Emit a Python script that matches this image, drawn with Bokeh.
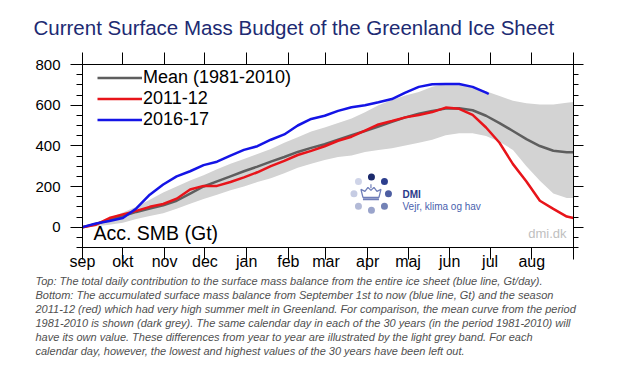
from bokeh.plotting import figure
from bokeh.models import (Range1d, FixedTicker, LinearAxis, Label, Legend, LegendItem,
                          CustomJSTickFormatter, Title)
from bokeh.embed import file_html
from bokeh.resources import INLINE

# ---------------- data ----------------
month_names = ["sep", "okt", "nov", "dec", "jan", "feb", "mar", "apr", "maj", "jun", "jul", "aug"]
month_days = [30, 31, 30, 31, 31, 28, 31, 30, 31, 30, 31, 31]

days = [0, 10, 20, 30, 40, 50, 60, 70, 80, 90, 100, 110, 120, 130, 140, 150, 160, 170, 180,
        190, 200, 210, 220, 230, 240, 250, 260, 270, 280, 290, 300, 310, 320, 330, 340, 350,
        360, 365]
mean_smb = [0, 16, 35, 55, 75, 92, 108, 130, 165, 200, 225, 250, 275, 298, 322, 345, 370, 390,
            408, 430, 452, 473, 495, 518, 540, 558, 572, 583, 585, 575, 548, 512, 473, 433, 399,
            376, 368, 369]
band_high = [0, 20, 45, 72, 100, 135, 170, 200, 230, 255, 285, 312, 335, 360, 385, 415, 442, 470,
             490, 512, 535, 565, 600, 625, 648, 665, 690, 705, 705, 690, 668, 645, 622, 610, 603,
             603, 612, 616]
band_low = [0, 5, 12, 22, 40, 55, 68, 90, 115, 138, 160, 182, 200, 222, 240, 265, 292, 312, 330,
            345, 352, 370, 380, 388, 402, 415, 430, 452, 462, 462, 448, 420, 380, 300, 228, 165,
            143, 143]
smb_2011_12 = [0, 12, 45, 63, 80, 100, 114, 140, 185, 203, 203, 222, 245, 270, 300, 326, 355, 375,
               398, 425, 445, 475, 505, 522, 540, 552, 566, 588, 582, 552, 490, 415, 310, 225, 130,
               90, 52, 45]
days_2016_17 = [0, 10, 20, 30, 40, 50, 60, 70, 80, 90, 100, 110, 120, 130, 140, 150, 160, 170,
                180, 190, 200, 210, 220, 230, 240, 250, 260, 270, 280, 290, 300, 302]
smb_2016_17 = [0, 18, 30, 45, 92, 160, 210, 250, 275, 305, 322, 352, 380, 398, 430, 456, 500, 532,
               548, 572, 590, 600, 614, 630, 662, 690, 703, 704, 704, 690, 662, 655]

y_major = [0, 200, 400, 600, 800]
y_minor = [-100, -50, 50, 100, 150, 250, 300, 350, 450, 500, 550, 650, 700, 750]

title_text = "Current Surface Mass Budget of the Greenland Ice Sheet"
caption_lines = [
    "Top: The total daily contribution to the surface mass balance from the entire ice sheet (blue line, Gt/day).",
    "Bottom: The accumulated surface mass balance from September 1st to now (blue line, Gt) and the season",
    "2011-12 (red) which had very high summer melt in Greenland. For comparison, the mean curve from the period",
    "1981-2010 is shown (dark grey). The same calendar day in each of the 30 years (in the period 1981-2010) will",
    "have its own value. These differences from year to year are illustrated by the light grey band. For each",
    "calendar day, however, the lowest and highest values of the 30 years have been left out.",
]

month_starts = [0]
for d in month_days:
    month_starts.append(month_starts[-1] + d)

FONT = "Liberation Sans"

# ---------------- main figure ----------------
p = figure(width=610, height=375, x_range=Range1d(0, 365), y_range=Range1d(-100, 800),
           output_backend="svg", toolbar_location=None,
           min_border_left=82, min_border_right=37, min_border_top=63, min_border_bottom=128)
p.xgrid.visible = False
p.ygrid.visible = False
p.outline_line_color = "black"
p.outline_line_width = 1
p.background_fill_color = "white"
p.border_fill_color = "white"

p.title.text = title_text
p.title.align = "left"
p.title.offset = -49
p.title.standoff = 27
p.title.text_font = FONT
p.title.text_font_size = "20.5px"
p.title.text_font_style = "normal"
p.title.text_color = "#202a72"

p.varea(x=days, y1=band_low, y2=band_high, fill_color="#d3d3d3")
r_mean = p.line(days, mean_smb, line_color="#5e5e5e", line_width=2.5)
r_red = p.line(days, smb_2011_12, line_color="#e8141a", line_width=2.5)
r_blue = p.line(days_2016_17, smb_2016_17, line_color="#1414e6", line_width=2.5)

xa = p.xaxis[0]
xa.ticker = FixedTicker(ticks=month_starts, minor_ticks=[])
xa.major_label_overrides = {m: (month_names[i] if i < 12 else "") for i, m in enumerate(month_starts)}
xa.major_label_text_align = "left"
xa.major_label_text_font = FONT
xa.major_label_text_font_size = "16px"
xa.major_label_text_color = "black"
xa.major_tick_out = 12
xa.major_tick_in = 0
xa.minor_tick_out = 0
xa.major_label_standoff = -7
xa.axis_line_color = "black"
xa.major_tick_line_color = "black"

ya = p.yaxis[0]
ya.ticker = FixedTicker(ticks=y_major, minor_ticks=y_minor)
ya.major_label_text_font = FONT
ya.major_label_text_font_size = "15px"
ya.major_label_text_color = "black"
ya.major_tick_out = 12
ya.major_tick_in = 0
ya.minor_tick_out = 6
ya.minor_tick_in = 0
ya.major_label_standoff = 10
ya.axis_line_color = "black"
ya.major_tick_line_color = "black"
ya.minor_tick_line_color = "black"

blank = CustomJSTickFormatter(code="return ''")
top = LinearAxis(ticker=FixedTicker(ticks=month_starts, minor_ticks=[]), formatter=blank,
                 major_tick_out=12, major_tick_in=0, minor_tick_out=0, major_label_standoff=0,
                 axis_line_color="black", major_tick_line_color="black",
                 major_label_text_font_size="1px")
p.add_layout(top, "above")
right = LinearAxis(ticker=FixedTicker(ticks=y_major, minor_ticks=y_minor), formatter=blank,
                   major_tick_out=10, major_tick_in=0, minor_tick_out=5, minor_tick_in=0,
                   major_label_standoff=0,
                   axis_line_color="black", major_tick_line_color="black",
                   minor_tick_line_color="black", major_label_text_font_size="1px")
p.add_layout(right, "right")

caption = Title(text="\n".join(caption_lines), align="left", offset=-47, standoff=0,
                text_font=FONT, text_font_size="11px", text_font_style="italic",
                text_color="#505050", text_line_height=1.18)
p.add_layout(caption, "below")

legend = Legend(items=[LegendItem(label="Mean (1981-2010)", renderers=[r_mean]),
                       LegendItem(label="2011-12", renderers=[r_red]),
                       LegendItem(label="2016-17", renderers=[r_blue])],
                location=(15, 117), glyph_width=45, glyph_height=19, label_height=19,
                label_standoff=1, spacing=-1, padding=0, margin=0,
                label_text_font=FONT, label_text_font_size="18px", label_text_color="black",
                border_line_alpha=0, background_fill_alpha=0)
p.add_layout(legend, "center")


def lab(x, y, text, size, color="black", style="normal", align="left"):
    p.add_layout(Label(x=x, y=y, x_units="screen", y_units="screen", text=text,
                       text_font=FONT, text_font_size=size, text_color=color,
                       text_font_style=style, text_align=align, text_baseline="middle"))


lab(11, 15, "Acc. SMB (Gt)", "19.5px")
lab(484, 14, "dmi.dk", "13px", "#c0c0c0", align="right")
lab(320, 53, "DMI", "10px", "#2a3a8a", style="bold")
lab(320, 41, "Vejr, klima og hav", "10px", "#4a5fae")

# DMI logo (decoration): pixel offsets around a centre, converted to data units
px_x = 365 / 491
px_y = 900 / 184
cx, cy = 214.8, 164.0
dot_off = [(0, -17), (13, -12.5), (17, 0), (13, 12.5), (0, 16.5), (-13, 12.5), (-17.5, 0), (-13, -12.5)]
dot_col = ["#1c2a6c", "#2d3f8e", "#4d5ea2", "#7382b6", "#9aa4cb", "#b3bad7", "#c6cce3", "#cfd4e8"]
p.scatter([cx + dx * px_x for dx, dy in dot_off], [cy - dy * px_y for dx, dy in dot_off],
          size=7, fill_color=dot_col, line_color=None)
crown = [(-8, 5), (-10, -3), (-6, -1), (-3, -5), (0, -2), (3, -5), (6, -1), (10, -3), (8, 5)]
p.patch([cx - 0.5 * px_x + dx * px_x for dx, dy in crown],
        [cy + 1.5 * px_y - dy * px_y for dx, dy in crown],
        fill_color="white", line_color="#6f7eb9", line_width=1.3)
p.line([cx - 8.5 * px_x, cx + 7.5 * px_x], [cy - 5.5 * px_y, cy - 5.5 * px_y],
       line_color="#6f7eb9", line_width=2)
p.line([cx - 0.5 * px_x, cx - 0.5 * px_x], [cy + 5.5 * px_y, cy + 9.5 * px_y],
       line_color="#6f7eb9", line_width=1.2)

open("out.html", "w").write(file_html(p, INLINE))
